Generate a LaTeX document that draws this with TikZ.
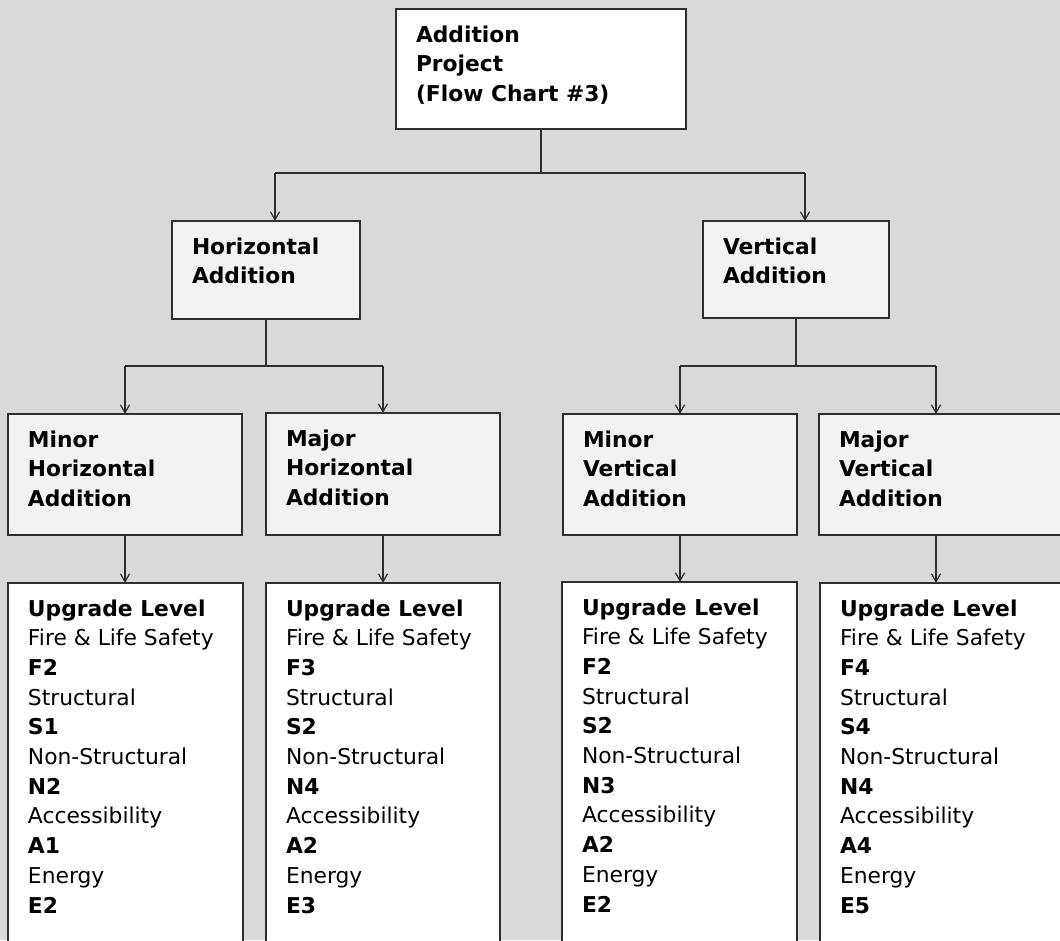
\documentclass[tikz,border=0pt]{standalone}
\usepackage{fontspec}
\setmainfont{DejaVu Sans}
\usetikzlibrary{arrows.meta}
\definecolor{bgcol}{HTML}{D9D9D9}
\definecolor{lightfill}{HTML}{F2F2F2}
\definecolor{edgecol}{HTML}{2E2E2E}
\newcommand{\cellbody}[3]{\parbox[t][#2][t]{#1}{\fontsize{21.8pt}{29.7pt}\selectfont\leftskip=20pt\rule{0pt}{33pt}#3\par}}
\newcommand{\levels}[5]{\textbf{Upgrade Level}\\Fire \& Life Safety\\\textbf{#1}\\Structural\\\textbf{#2}\\Non-Structural\\\textbf{#3}\\Accessibility\\\textbf{#4}\\Energy\\\textbf{#5}}
\tikzset{
  cellbox/.style={draw=edgecol, line width=1.3pt, inner sep=0pt, outer sep=0pt, anchor=north west},
  whitecell/.style={cellbox, fill=white},
  graycell/.style={cellbox, fill=lightfill},
  link/.style={draw=edgecol, line width=1.2pt},
  arr/.style={link, -{Straight Barb[length=8pt,width=9pt,line width=1.2pt]}}
}
\begin{document}
\begin{tikzpicture}[x=1pt,y=-1pt]
\useasboundingbox (0,0) rectangle (1060,940);
\clip (0,0) rectangle (1060,940);
\fill[bgcol] (0,0) rectangle (1060,940);

% level 1
\node[whitecell] (top) at (396,9) {\cellbody{290pt}{120pt}{\bfseries Addition\\Project\\(Flow Chart \#3)}};

% level 2
\node[graycell] (hor) at (172,221) {\cellbody{188pt}{98pt}{\bfseries Horizontal\\Addition}};
\node[graycell] (ver) at (703,221) {\cellbody{186pt}{97pt}{\bfseries Vertical\\Addition}};

% level 3
\node[graycell] (minH) at (8,414) {\cellbody{234pt}{121pt}{\bfseries Minor\\Horizontal\\Addition}};
\node[graycell] (majH) at (266,413) {\cellbody{234pt}{122pt}{\bfseries Major\\Horizontal\\Addition}};
\node[graycell] (minV) at (563,414) {\cellbody{234pt}{121pt}{\bfseries Minor\\Vertical\\Addition}};
\node[graycell] (majV) at (819,414) {\cellbody{260pt}{121pt}{\bfseries Major\\Vertical\\Addition}};

% level 4
\node[whitecell] (b1) at (8,583) {\cellbody{235pt}{420pt}{\levels{F2}{S1}{N2}{A1}{E2}}};
\node[whitecell] (b2) at (266,583) {\cellbody{234pt}{420pt}{\levels{F3}{S2}{N4}{A2}{E3}}};
\node[whitecell] (b3) at (562,582) {\cellbody{235pt}{420pt}{\levels{F2}{S2}{N3}{A2}{E2}}};
\node[whitecell] (b4) at (820,583) {\cellbody{260pt}{420pt}{\levels{F4}{S4}{N4}{A4}{E5}}};

% junctions
\coordinate (j1) at (541,173);
\coordinate (jL) at (275,173);
\coordinate (jR) at (805,173);
\coordinate (j2) at (266,366);
\coordinate (jHL) at (125,366);
\coordinate (jHR) at (383,366);
\coordinate (j3) at (796,366);
\coordinate (jVL) at (680,366);
\coordinate (jVR) at (936,366);

% connectors
\draw[link] (top.south) -- (j1);
\draw[link] (jL) -- (jR);
\draw[arr] (jL) -- (jL |- hor.north);
\draw[arr] (jR) -- (jR |- ver.north);

\draw[link] (ver.south) -- (j3);
\draw[link] (hor.south) -- (j2);
\draw[link] (jHL) -- (jHR);
\draw[arr] (jHL) -- (jHL |- minH.north);
\draw[arr] (jHR) -- (jHR |- majH.north);

\draw[link] (jVL) -- (jVR);
\draw[arr] (jVL) -- (jVL |- minV.north);
\draw[arr] (jVR) -- (jVR |- majV.north);

\draw[arr] (minH.south) -- (minH.south |- b1.north);
\draw[arr] (majH.south) -- (majH.south |- b2.north);
\draw[arr] (minV.south) -- (minV.south |- b3.north);
\draw[arr] (jVR |- majV.south) -- (jVR |- b4.north);
\end{tikzpicture}
\end{document}
